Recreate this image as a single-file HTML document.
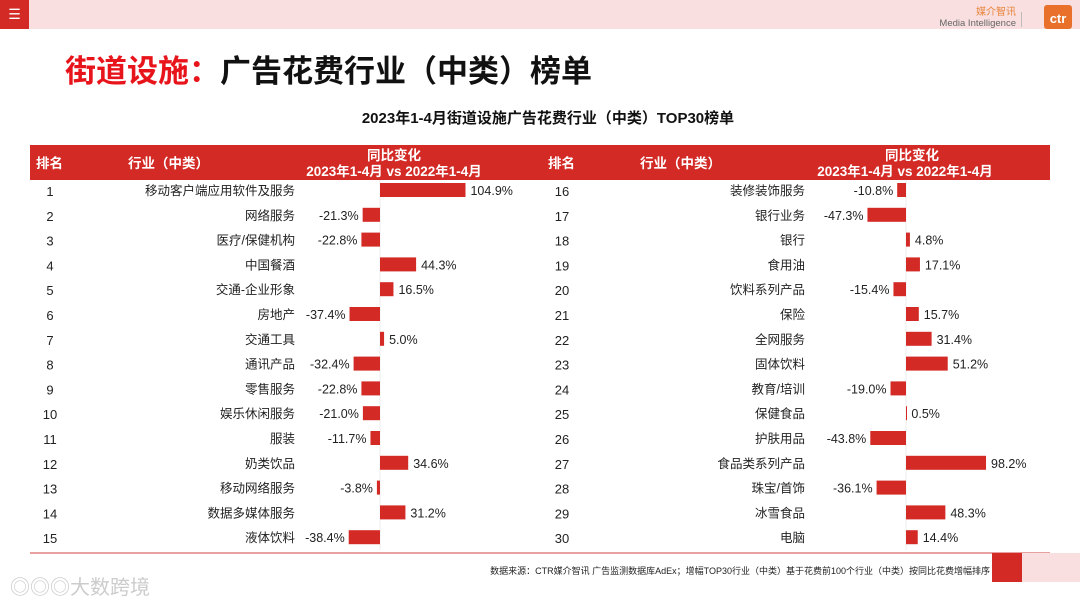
<!DOCTYPE html>
<html><head><meta charset="utf-8"><style>
body{margin:0;width:1080px;height:608px;overflow:hidden;background:#fff;font-family:"Liberation Sans","Noto Sans CJK SC",sans-serif}
svg text{font-family:"Liberation Sans","Noto Sans CJK SC",sans-serif}
</style></head><body>
<svg width="1080" height="608" viewBox="0 0 1080 608" xmlns="http://www.w3.org/2000/svg" id="chart">
<rect x="0" y="0" width="1080" height="29" fill="#f9dfe0"/>
<rect x="0" y="0" width="29" height="29" fill="#d32a26"/>
<text x="14.5" y="19" fill="#fff" font-size="14" text-anchor="middle">☰</text>
<text x="1016" y="15" fill="#e8843b" font-size="10" text-anchor="end">媒介智讯</text>
<text x="1016" y="26" fill="#666" font-size="9.5" text-anchor="end">Media Intelligence</text>
<rect x="1021" y="12" width="1" height="15" fill="#bbb"/>
<rect x="1044" y="5" width="28" height="24" rx="3" fill="#e8702a"/>
<text x="1058" y="23" fill="#fff" font-size="13" font-weight="bold" text-anchor="middle">ctr</text>
<text x="65" y="82" font-size="31" font-weight="bold"><tspan fill="#e8141b">街道设施：</tspan><tspan fill="#111">广告花费行业（中类）榜单</tspan></text>
<text x="548" y="123" font-size="15" font-weight="bold" fill="#111" text-anchor="middle">2023年1-4月街道设施广告花费行业（中类）TOP30榜单</text>
<rect x="30" y="145" width="1020" height="35" fill="#d32a26"/>
<g fill="#fff" font-weight="bold" font-size="13.5">
<text x="36" y="168">排名</text>
<text x="128" y="168">行业（中类）</text>
<text x="394" y="160" text-anchor="middle">同比变化</text>
<text x="394" y="176" text-anchor="middle">2023年1-4月 vs 2022年1-4月</text>
<text x="548" y="168">排名</text>
<text x="640" y="168">行业（中类）</text>
<text x="912" y="160" text-anchor="middle">同比变化</text>
<text x="905" y="176" text-anchor="middle">2023年1-4月 vs 2022年1-4月</text>
</g>
<line x1="380" y1="180" x2="380" y2="550" stroke="#eee"/>
<line x1="906" y1="180" x2="906" y2="550" stroke="#eee"/>
<g id="rows"></g>
<rect x="30" y="552" width="1020" height="2" fill="#e8a0a0"/>
<text x="990" y="574" font-size="9" fill="#222" text-anchor="end">数据来源：CTR媒介智讯 广告监测数据库AdEx；增幅TOP30行业（中类）基于花费前100个行业（中类）按同比花费增幅排序</text>
<rect x="992" y="553" width="30" height="29" fill="#d32a26"/>
<rect x="1022" y="553" width="58" height="29" fill="#f9dfe0"/>
<text x="10" y="594" font-size="20" fill="#ccc">◎◎◎大数跨境</text>
</svg>
<script>
const categoriesLeft=["移动客户端应用软件及服务","网络服务","医疗/保健机构","中国餐酒","交通-企业形象","房地产","交通工具","通讯产品","零售服务","娱乐休闲服务","服装","奶类饮品","移动网络服务","数据多媒体服务","液体饮料"];
const valuesLeft=[104.9,-21.3,-22.8,44.3,16.5,-37.4,5.0,-32.4,-22.8,-21.0,-11.7,34.6,-3.8,31.2,-38.4];
const categoriesRight=["装修装饰服务","银行业务","银行","食用油","饮料系列产品","保险","全网服务","固体饮料","教育/培训","保健食品","护肤用品","食品类系列产品","珠宝/首饰","冰雪食品","电脑"];
const valuesRight=[-10.8,-47.3,4.8,17.1,-15.4,15.7,31.4,51.2,-19.0,0.5,-43.8,98.2,-36.1,48.3,14.4];
const NS="http://www.w3.org/2000/svg";
const g=document.getElementById('rows');
const scale=0.815;
function rowY(i){return 190+i*24.8;}
function mk(tag,attrs,txt){const e=document.createElementNS(NS,tag);for(const k in attrs)e.setAttribute(k,attrs[k]);if(txt!==undefined)e.textContent=txt;g.appendChild(e);return e;}
function side(cats,vals,rankX,catEnd,zero,offset,prefix){
cats.forEach((c,i)=>{
 const v=vals[i],y=rowY(i),w=Math.abs(v)*scale,x=v>=0?zero:zero-w;
 const r=mk('text',{x:rankX,y:y+6,'font-size':13,fill:'#222','text-anchor':'middle'},String(i+1+offset));
 
 
 const b=mk('rect',{x:x,y:y-7,width:Math.max(w,1),height:14,fill:'#d32a26'});
 
 
 const lbl=v.toFixed(1)+'%';
 const lx=v>=0?zero+w+5:x-4;
 const t=mk('text',{x:lx,y:y+5,'font-size':12.5,fill:'#222','text-anchor':v>=0?'start':'end'},lbl);
 
 
 const ce=v>=0?catEnd:Math.min(catEnd,x-4-lbl.length*7-4);
 const ct=mk('text',{x:ce,y:y+5,'font-size':12.5,fill:'#222','text-anchor':'end'},c);
 
 
});
}
side(categoriesLeft,valuesLeft,50,295,380,0,'left');
side(categoriesRight,valuesRight,562,805,906,15,'right');
</script>
</body></html>
